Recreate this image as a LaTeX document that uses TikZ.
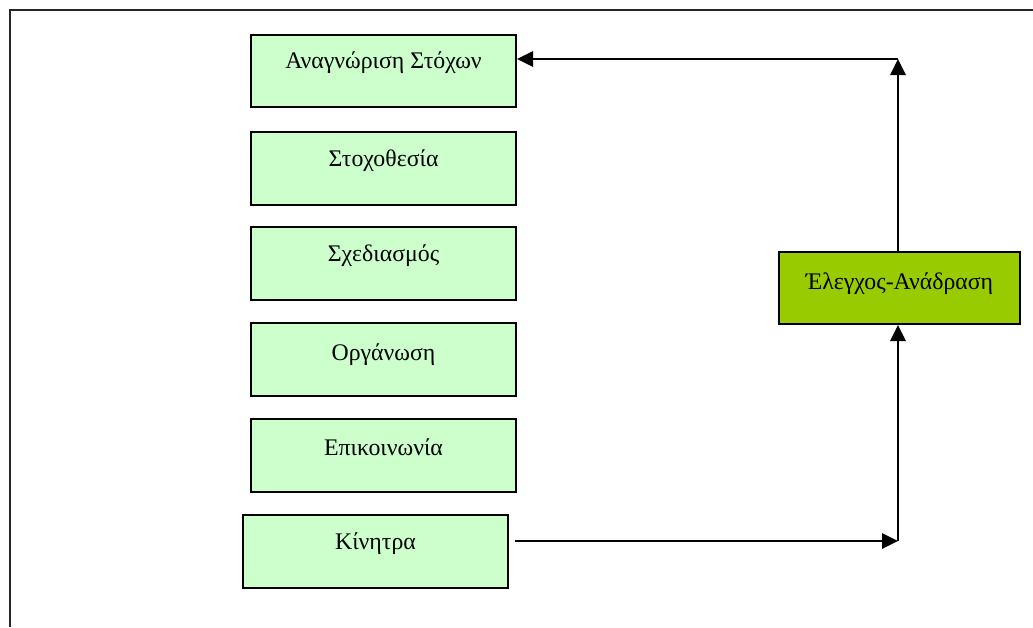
\documentclass[tikz,border=0pt]{standalone}
\usepackage{fontspec}
\setmainfont{Liberation Serif}
\usetikzlibrary{arrows.meta}
\definecolor{stepfill}{HTML}{CCFFCC}
\definecolor{ctrlfill}{HTML}{99CC00}
\begin{document}
\begin{tikzpicture}[x=1pt,y=-1pt,
  stage/.style={draw=black, line width=2pt, fill=stepfill, anchor=north west,
    inner xsep=0pt, inner ysep=0pt, minimum width=265pt, text depth=39pt,
    font=\fontsize{23.8}{28}\selectfont},
  ctrl/.style={stage, fill=ctrlfill, minimum width=241pt},
  flow/.style={line width=2.8pt, -{Triangle[length=16pt,width=15pt]}}]
  \useasboundingbox (0,0) rectangle (1033,627);
  % outer frame
  \draw[line width=2.4pt, black!85] (10,627) -- (10,10) -- (1033,10);
  % stages
  \node[stage, text height=33pt] (goals) at (250,34) {Αναγνώριση Στόχων};
  \node[stage, text height=34pt] (target) at (250,131) {Στοχοθεσία};
  \node[stage, text height=34pt] (design) at (250,226) {Σχεδιασμός};
  \node[stage, text height=37pt, text depth=36pt] (organ) at (250,322) {Οργάνωση};
  \node[stage, text height=36pt, text depth=37pt] (comm) at (250,418) {Επικοινωνία};
  \node[stage, text height=34pt] (motive) at (242,514) {Κίνητρα};
  \node[ctrl, text height=37pt, text depth=35pt] (check) at (778,251) {Έλεγχος-Ανάδραση};
  % feedback loop
  \coordinate (lowcorner) at (898,541);
  \coordinate (topcorner) at (898,59);
  \draw[flow, shorten <=6pt] (motive.east |- lowcorner) -- (lowcorner);
  \draw[flow] (lowcorner) -- (lowcorner |- check.south);
  \draw[flow] (topcorner |- check.north) -- (topcorner);
  \draw[flow] (topcorner) -- (topcorner -| goals.east);
\end{tikzpicture}
\end{document}
